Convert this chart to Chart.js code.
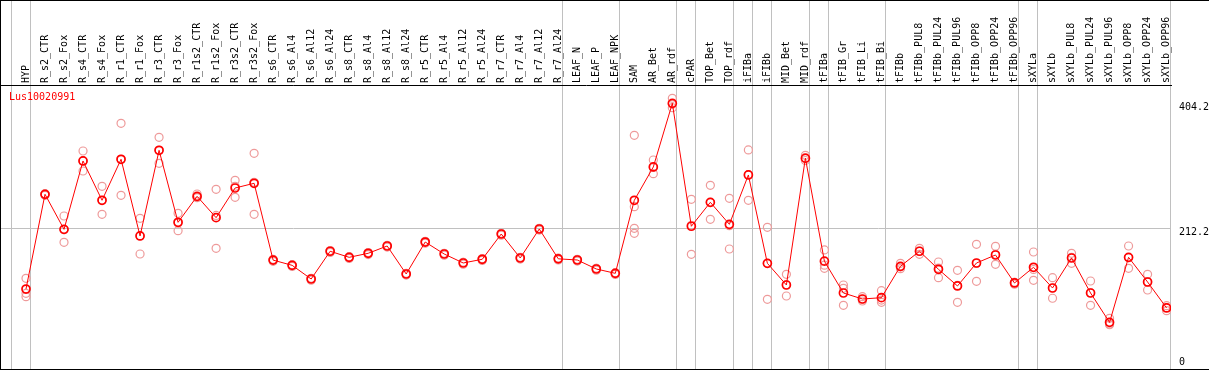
<!DOCTYPE html>
<html>
<head>
<meta charset="utf-8">
<script src="https://cdn.jsdelivr.net/npm/chart.js@4.4.1/dist/chart.umd.min.js"></script>
<style>
  html, body { margin: 0; padding: 0; background: #fff; }
  #wrap {
    position: absolute; left: 0; top: 0;
    width: 1209px; height: 370px; box-sizing: border-box;
    border-left: 1px solid #000; border-top: 1px solid #000; border-bottom: 1px solid #000;
  }
  canvas { display: block; }
</style>
</head>
<body>
<div id="wrap"><canvas id="chart" width="1208" height="368"></canvas></div>
<script>
const geneId = 'Lus10020991';

const samples = [
  'HYP', 'R_s2_CTR', 'R_s2_Fox', 'R_s4_CTR', 'R_s4_Fox', 'R_r1_CTR', 'R_r1_Fox',
  'R_r3_CTR', 'R_r3_Fox', 'R_r1s2_CTR', 'R_r1s2_Fox', 'R_r3s2_CTR', 'R_r3s2_Fox',
  'R_s6_CTR', 'R_s6_Al4', 'R_s6_Al12', 'R_s6_Al24', 'R_s8_CTR', 'R_s8_Al4', 'R_s8_Al12', 'R_s8_Al24',
  'R_r5_CTR', 'R_r5_Al4', 'R_r5_Al12', 'R_r5_Al24', 'R_r7_CTR', 'R_r7_Al4', 'R_r7_Al12', 'R_r7_Al24',
  'LEAF_N', 'LEAF_P', 'LEAF_NPK', 'SAM', 'AR_Bet', 'AR_rdf', 'cPAR', 'TOP_Bet', 'TOP_rdf',
  'iFIBa', 'iFIBb', 'MID_Bet', 'MID_rdf', 'tFIBa', 'tFIB_Gr', 'tFIB_Li', 'tFIB_Bi',
  'tFIBb', 'tFIBb_PUL8', 'tFIBb_PUL24', 'tFIBb_PUL96', 'tFIBb_OPP8', 'tFIBb_OPP24', 'tFIBb_OPP96',
  'sXYLa', 'sXYLb', 'sXYLb_PUL8', 'sXYLb_PUL24', 'sXYLb_PUL96', 'sXYLb_OPP8', 'sXYLb_OPP24', 'sXYLb_OPP96'
];

// first sample index of each group (gray separators)
const groupStarts = [0, 1, 29, 32, 35, 36, 38, 39, 40, 42, 43, 46, 53, 54, 61];

const means = [
  119.0, 264.5, 210.7, 315.7, 255.3, 318.3, 200.5, 332.1, 221.5, 261.4, 228.6, 274.2, 281.4,
  163.4, 155.4, 134.4, 177.0, 167.7, 173.9, 185.1, 142.1,
  191.2, 172.8, 159.0, 164.7, 203.5, 166.7, 211.2, 165.4,
  163.6, 149.8, 143.1, 255.3, 306.5, 404.2, 215.4, 252.2, 218.4,
  294.2, 158.5, 125.2, 320.0, 161.8, 112.9, 103.7, 105.7,
  153.9, 177.0, 149.3, 123.7, 159.0, 171.3, 128.3,
  152.4, 120.6, 166.7, 112.9, 67.8, 167.7, 129.8, 89.9
];

const rep1 = [
  135.5, 265.0, 231.2, 331.0, 276.8, 373.6, 227.6, 352.1, 235.3, 265.0, 272.2, 286.0, 327.5,
  164.5, 156.4, 135.5, 178.0, 168.7, 175.0, 186.0, 143.0,
  192.3, 173.9, 160.0, 165.7, 204.5, 167.7, 212.2, 166.4,
  164.6, 150.8, 144.1, 355.1, 317.2, 412.0, 256.8, 278.3, 258.4,
  332.6, 213.8, 141.6, 324.4, 179.0, 125.2, 107.2, 116.4,
  158.5, 181.6, 160.5, 147.8, 187.7, 184.6, 129.3,
  175.9, 136.4, 173.9, 131.3, 74.0, 185.1, 141.6, 93.4
];
const rep2 = [
  112.4, 263.0, 190.7, 300.3, 233.8, 263.0, 172.8, 312.1, 208.6, 259.3, 181.6, 259.9, 233.8,
  161.5, 153.6, 132.6, 175.2, 165.9, 172.0, 183.4, 140.5,
  189.5, 171.0, 157.2, 163.0, 201.8, 165.0, 209.5, 163.7,
  161.9, 148.0, 141.4, 245.5, 296.2, 397.6, 172.3, 226.1, 180.5,
  255.3, 103.2, 108.3, 319.2, 150.8, 120.1, 100.6, 98.6,
  150.2, 172.3, 136.4, 98.6, 130.9, 157.0, 126.5,
  132.4, 104.8, 158.5, 94.0, 65.3, 150.8, 117.5, 85.7
];
const rep3 = [
  107.2, 265.5, 210.2, 315.8, 255.3, 318.3, 201.0, 332.0, 220.6, 260.0, 232.0, 276.7, 283.0,
  164.2, 156.2, 135.1, 177.8, 168.5, 174.7, 185.9, 142.8,
  191.8, 173.5, 159.8, 165.4, 204.2, 167.4, 211.9, 166.1,
  164.3, 150.6, 143.8, 212.3, 306.0, 403.0, 217.0, 252.2, 216.3,
  294.7, 158.5, 125.7, 316.4, 155.6, 94.0, 103.3, 102.1,
  153.0, 177.1, 151.0, 124.7, 158.4, 172.3, 129.1,
  149.0, 120.6, 167.7, 113.4, 64.1, 167.2, 130.3, 90.6
];
// only SAM has a fourth replicate
const rep4 = { SAM: 204.6 };

const yTicks = [0, 212.2, 404.2];

const reps = [];
[rep1, rep2, rep3].forEach(arr => arr.forEach((v, i) => reps.push({ x: i, y: v })));
Object.keys(rep4).forEach(name => reps.push({ x: samples.indexOf(name), y: rep4[name] }));

const xMin = -1.315, xMax = 60.232;

// no extra layout padding from axis labels
function noPad(s) {
  s.paddingLeft = 0; s.paddingRight = 0; s.paddingTop = 0; s.paddingBottom = 0;
}

const geneLabel = {
  id: 'geneLabel',
  afterDraw(chart) {
    const ctx = chart.ctx, area = chart.chartArea;
    ctx.save();
    ctx.font = '10px "DejaVu Sans Mono"';
    ctx.fillStyle = '#ff0000';
    ctx.textBaseline = 'middle';
    ctx.fillText(geneId, area.left + 8, area.top + 12);
    ctx.restore();
  }
};

Chart.defaults.font.family = '"DejaVu Sans Mono", monospace';
Chart.defaults.font.size = 10;
Chart.defaults.color = '#000';

new Chart(document.getElementById('chart'), {
  type: 'line',
  data: {
    datasets: [{
      label: 'mean',
      data: means.map((v, i) => ({ x: i, y: v })),
      borderColor: '#ff0000',
      borderWidth: 1,
      pointRadius: 4,
      pointBorderWidth: 1.7,
      pointBorderColor: '#ff0000',
      pointBackgroundColor: 'rgba(0,0,0,0)',
      tension: 0
    }, {
      label: 'replicates',
      data: reps,
      showLine: false,
      pointRadius: 4,
      pointBorderWidth: 1.2,
      pointBorderColor: '#ee9a9a',
      pointBackgroundColor: 'rgba(0,0,0,0)'
    }]
  },
  options: {
    responsive: false,
    animation: false,
    layout: { padding: 0, autoPadding: false },
    plugins: { legend: { display: false }, tooltip: { enabled: false } },
    scales: {
      x: {
        type: 'linear', position: 'top', weight: 1,
        min: xMin, max: xMax,
        afterBuildTicks: s => { s.ticks = samples.map((c, i) => ({ value: i })); },
        afterFit: s => { s.height = 84; noPad(s); },
        ticks: {
          autoSkip: false, minRotation: 90, maxRotation: 90, padding: 2, labelOffset: 12,
          callback: v => samples[v]
        },
        grid: { display: false, drawTicks: false },
        border: { display: true, color: '#000', width: 1 }
      },
      xg: {
        type: 'linear', position: 'top', weight: 0,
        min: xMin, max: xMax,
        afterBuildTicks: s => { s.ticks = groupStarts.map(b => ({ value: b - 0.78 })); },
        afterFit: s => { s.height = 0; noPad(s); },
        ticks: { display: false },
        grid: { color: '#c0c0c0', lineWidth: 1, drawTicks: true, tickLength: 84 },
        border: { display: false }
      },
      y: {
        position: 'right',
        min: -3.84, max: 432.4,
        afterBuildTicks: s => { s.ticks = yTicks.map(v => ({ value: v })); },
        afterFit: s => { s.width = 38; noPad(s); },
        ticks: {
          padding: 8, labelOffset: 4,
          font: { lineHeight: 1.6 },
          callback: v => v === 0 ? ['0', ''] : v.toFixed(1)
        },
        grid: {
          drawTicks: false,
          color: c => (c.tick && c.tick.value === 212.2) ? '#c0c0c0' : 'rgba(0,0,0,0)'
        },
        border: { display: false }
      }
    }
  },
  plugins: [geneLabel]
});
</script>
</body>
</html>
